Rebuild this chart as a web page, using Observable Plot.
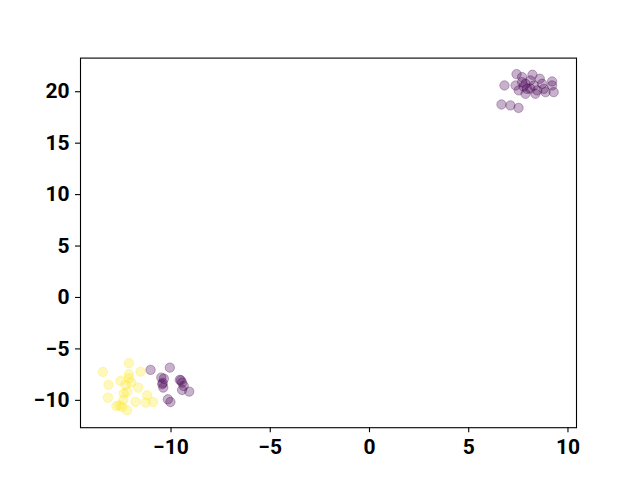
<!DOCTYPE html>
<html>
<head>
<meta charset="utf-8">
<script src="https://cdn.jsdelivr.net/npm/d3@7"></script>
<script src="https://cdn.jsdelivr.net/npm/@observablehq/plot@0.6"></script>
<style>
  html, body { margin: 0; padding: 0; background: #fff; }
</style>
</head>
<body>
<div id="chart"></div>
<script>
// Cluster labels: 0 = purple, 1 = yellow
const purpleTopX = [6.80, 6.65, 7.10, 7.51, 7.41, 7.69, 8.21, 8.58, 9.20, 9.20, 8.87, 9.28, 7.36, 7.52, 7.86, 7.94, 8.28, 8.36, 7.86, 8.11, 8.70, 8.78, 7.69, 8.45, 7.76, 8.10];
const purpleTopY = [20.61, 18.76, 18.67, 18.43, 21.71, 21.42, 21.65, 21.26, 21.00, 20.61, 19.96, 19.96, 20.61, 20.13, 20.77, 20.28, 20.61, 19.80, 19.80, 21.10, 20.77, 20.28, 20.93, 20.13, 20.50, 20.30];
const purpleLowX = [-11.03, -10.06, -10.49, -10.36, -10.44, -10.39, -9.56, -9.44, -9.36, -9.44, -9.08, -10.16, -10.03, -9.50, -10.42];
const purpleLowY = [-7.04, -6.82, -7.79, -7.89, -8.44, -8.76, -8.01, -8.28, -8.60, -8.99, -9.15, -9.90, -10.16, -8.05, -8.30];
const yellowX = [-12.12, -13.43, -13.15, -13.18, -12.54, -12.12, -12.00, -12.29, -11.54, -11.65, -12.38, -12.21, -12.40, -12.75, -12.46, -12.21, -11.79, -11.20, -11.28, -10.90, -12.12, -12.60];
const yellowY = [-6.39, -7.24, -8.50, -9.74, -8.11, -7.47, -8.28, -8.50, -7.21, -8.76, -9.32, -9.18, -9.96, -10.55, -10.64, -10.97, -10.16, -9.51, -10.22, -10.16, -7.85, -10.50];
const xTicks = [-10, -5, 0, 5, 10];
const yTicks = [-10, -5, 0, 5, 10, 15, 20];

const points = [];
yellowX.forEach((x, i) => points.push({x, y: yellowY[i], label: 1}));
purpleTopX.forEach((x, i) => points.push({x, y: purpleTopY[i], label: 0}));
purpleLowX.forEach((x, i) => points.push({x, y: purpleLowY[i], label: 0}));

const chart = Plot.plot({
  width: 640,
  height: 480,
  marginLeft: 80,
  marginRight: 64,
  marginTop: 57.6,
  marginBottom: 52.8,
  style: {fontFamily: "Roboto, sans-serif", fontSize: "21px", fontWeight: "bold", color: "#000", background: "#fff"},
  x: {domain: [-14.56, 10.43]},
  y: {domain: [-12.66, 23.27]},
  color: {type: "ordinal", domain: [0, 1], range: ["#440154", "#fde725"]},
  marks: [
    Plot.dot(points, {x: "x", y: "y", r: 4.7, fill: "label", fillOpacity: 0.3, stroke: "label", strokeOpacity: 0.3, strokeWidth: 1}),
    Plot.frame({stroke: "#000", strokeWidth: 1.1}),
    Plot.axisX(xTicks, {tickSize: 5, tickPadding: 6.5, label: null, fontSize: 21, fontWeight: "bold", strokeWidth: 1.1}),
    Plot.axisY(yTicks, {tickSize: 5, tickPadding: 6, label: null, fontSize: 21, fontWeight: "bold", strokeWidth: 1.1})
  ]
});
document.getElementById("chart").appendChild(chart);
</script>
</body>
</html>
